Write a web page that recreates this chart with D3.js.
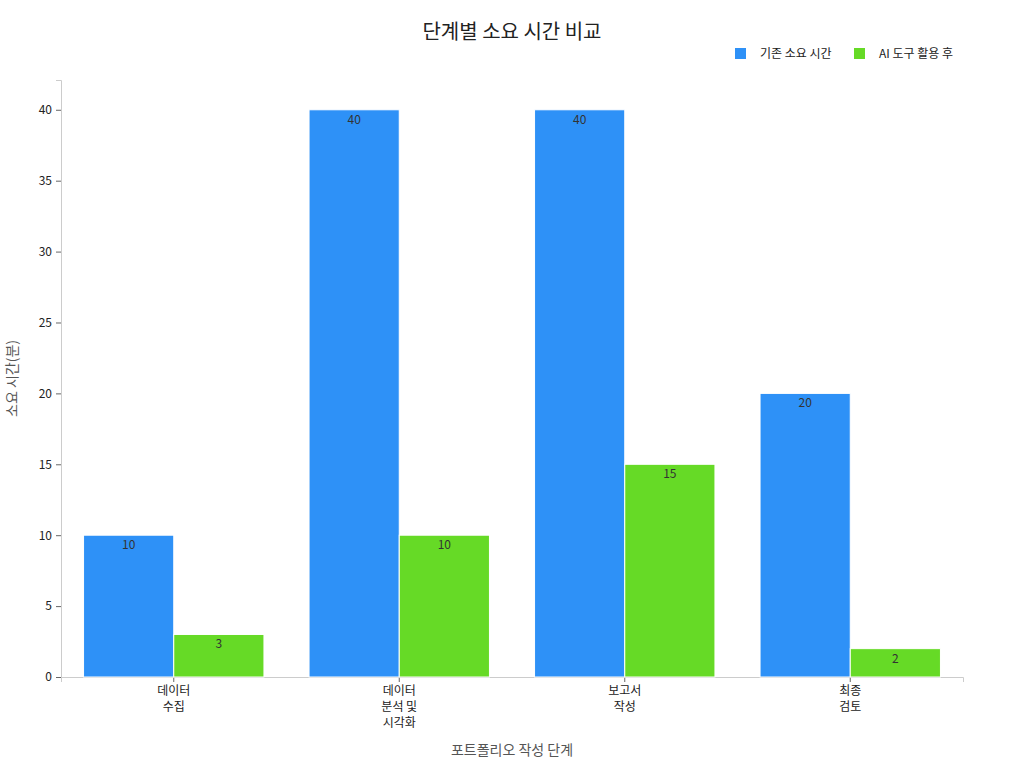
<!DOCTYPE html>
<html><head><meta charset="utf-8">
<script src="https://cdn.jsdelivr.net/npm/d3@7"></script>
<style>body{margin:0;background:#fff;font-family:"Noto Sans CJK KR","Noto Sans",sans-serif;}</style>
</head><body><div id="chart"></div>
<script>
// data
const categories = [["데이터", "수집"], ["데이터", "분석 및", "시각화"], ["보고서", "작성"], ["최종", "검토"]];
const seriesNames = ["기존 소요 시간", "AI 도구 활용 후"];
const before = [10, 40, 40, 20];
const after = [3, 10, 15, 2];
const colors = ["#2E91F7", "#66DA26"];

const W = 1024, H = 768;
const margin = { top: 80, right: 61, bottom: 91, left: 61 };
const width = W - margin.left - margin.right;
const height = H - margin.top - margin.bottom;
const font = '"Noto Sans CJK KR","Noto Sans",sans-serif';

const svg = d3.select("#chart").append("svg").attr("width", W).attr("height", H)
    .style("font-family", font);
const g = svg.append("g").attr("transform", `translate(${margin.left},${margin.top})`);

const x = d3.scaleBand().domain(d3.range(categories.length)).range([0, width])
    .paddingInner(0.2).paddingOuter(0.1);
const xs = d3.scaleBand().domain([0, 1]).range([0, x.bandwidth()]);
const y = d3.scaleLinear().domain([0, 42.1]).range([height, 0]);

// y axis
const yAxis = g.append("g").call(d3.axisLeft(y).tickValues(d3.range(0, 41, 5)).tickSize(5).tickPadding(4));
yAxis.select(".domain").attr("stroke", "#ccc");
yAxis.selectAll(".tick line").attr("stroke", "#666");
yAxis.selectAll("text").attr("font-size", 12).attr("fill", "#222").attr("font-family", font);

// x axis
const xAxis = g.append("g").attr("transform", `translate(0,${height})`)
    .call(d3.axisBottom(x).tickSize(5).tickFormat(""));
xAxis.select(".domain").attr("stroke", "#ccc");
xAxis.selectAll(".tick line").attr("stroke", "#666");
xAxis.selectAll(".tick").each(function (i) {
    const t = d3.select(this).append("text").attr("fill", "#222").attr("font-size", 12)
        .attr("text-anchor", "middle").attr("y", 18).attr("font-family", font);
    categories[i].forEach((line, k) => t.append("tspan").attr("x", 0).attr("dy", k ? 16 : 0).text(line));
});

// bars
const series = [before, after];
series.forEach((vals, s) => {
    g.selectAll(".bar" + s).data(vals).enter().append("rect")
        .attr("x", (d, i) => x(i) + xs(s))
        .attr("y", d => y(d))
        .attr("width", xs.bandwidth())
        .attr("height", d => height - y(d))
        .attr("fill", colors[s]).attr("stroke", "#fff").attr("stroke-width", 1);
    g.selectAll(".lab" + s).data(vals).enter().append("text")
        .attr("x", (d, i) => x(i) + xs(s) + xs.bandwidth() / 2)
        .attr("y", d => y(d) + 14)
        .attr("text-anchor", "middle").attr("font-size", 12).attr("fill", "#333")
        .text(d => d);
});

// titles
svg.append("text").attr("x", 512).attr("y", 39).attr("text-anchor", "middle")
    .attr("font-size", 20).attr("fill", "#222").text("단계별 소요 시간 비교");
svg.append("text").attr("x", 512).attr("y", 755).attr("text-anchor", "middle")
    .attr("font-size", 14).attr("fill", "#555").text("포트폴리오 작성 단계");
svg.append("text").attr("transform", `translate(17,${margin.top + height / 2}) rotate(-90)`)
    .attr("text-anchor", "middle").attr("font-size", 14).attr("fill", "#555").text("소요 시간(분)");

// legend
const legendX = [735, 854];
seriesNames.forEach((n, i) => {
    svg.append("rect").attr("x", legendX[i]).attr("y", 48).attr("width", 11).attr("height", 11).attr("fill", colors[i]);
    svg.append("text").attr("x", legendX[i] + 25).attr("y", 58).attr("font-size", 12).attr("fill", "#222").text(n);
});
</script></body></html>
